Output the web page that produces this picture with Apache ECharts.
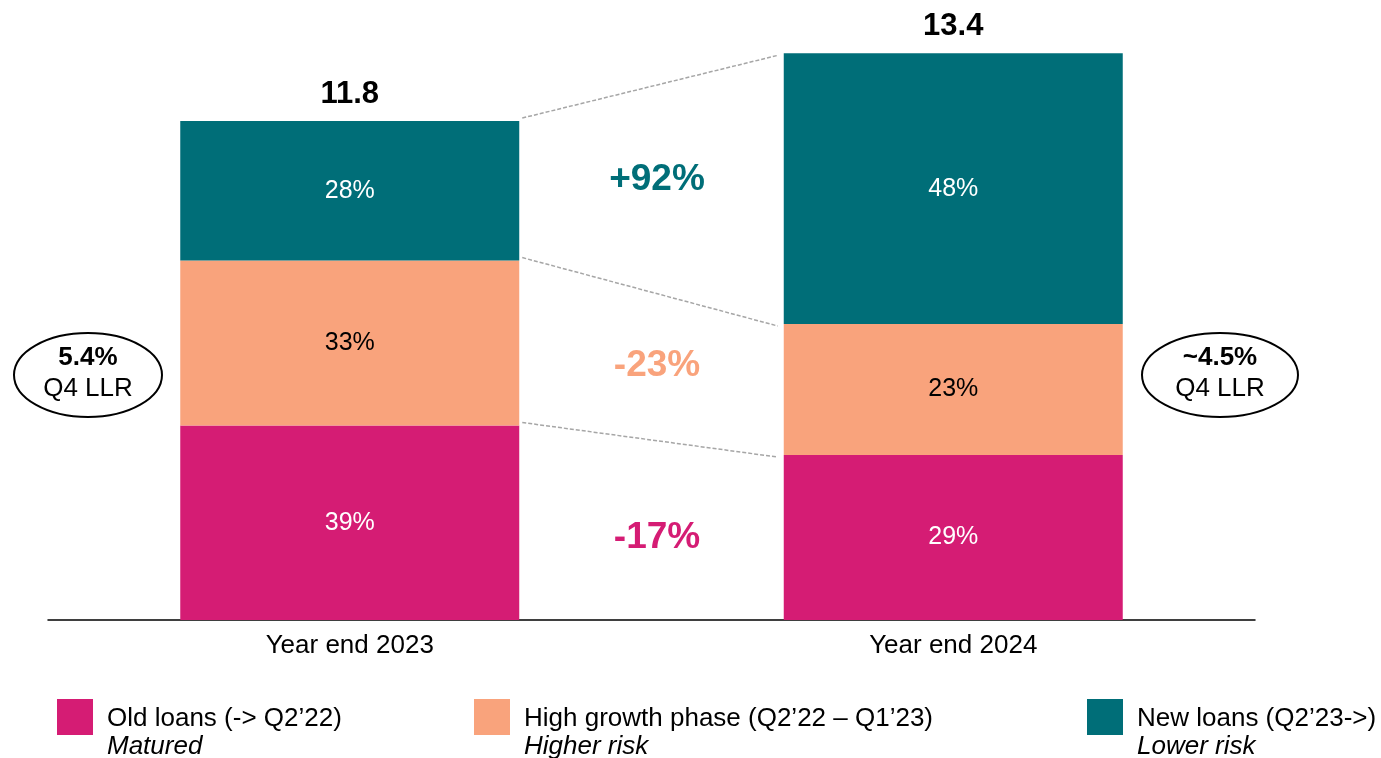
<!DOCTYPE html>
<html>
<head>
<meta charset="utf-8">
<script src="https://cdn.jsdelivr.net/npm/echarts@6/dist/echarts.min.js"></script>
<style>
  html, body { margin: 0; padding: 0; background: #fff; }
  #chart { width: 1381px; height: 758px; }
</style>
</head>
<body>
<div id="chart"></div>
<script>
// data
const categories = ['Year end 2023', 'Year end 2024'];
const oldLoans = [4.6, 3.9];
const highGrowth = [3.9, 3.1];
const newLoans = [3.3, 6.4];
const totals = [11.8, 13.4];
const oldPct = ['39%', '29%'];
const highPct = ['33%', '23%'];
const newPct = ['28%', '48%'];
const seriesNames = ['Old loans (-> Q2\u201922)', 'High growth phase (Q2\u201922 \u2013 Q1\u201923)', 'New loans (Q2\u201923->)'];
const seriesNotes = ['Matured', 'Higher risk', 'Lower risk'];
const changes = ['+92%', '-23%', '-17%'];

const colors = ['#D51C74', '#F9A37C', '#006E78'];
const font = '"Liberation Sans", Arial, sans-serif';
const barWidth = 339;

// segment boundaries, for the dashed connectors
const boundaries = [
    [oldLoans[0], oldLoans[1]],
    [oldLoans[0] + highGrowth[0], oldLoans[1] + highGrowth[1]],
    [totals[0], totals[1]]
];

let myChart = echarts.init(document.getElementById('chart'));

function segLabel(arr, color) {
    return {
        show: true,
        position: 'inside',
        color: color,
        fontSize: 25,
        fontFamily: font,
        formatter: p => arr[p.dataIndex]
    };
}

// legend drawn by hand, the three items are not evenly spaced
const legendX = [57, 474, 1087];
const legendGraphics = [];
legendX.forEach((x, i) => {
    legendGraphics.push({ type: 'rect', left: x, top: 699, shape: { width: 36, height: 36 }, style: { fill: colors[i] } });
    legendGraphics.push({ type: 'text', left: x + 50, top: 706, style: { text: seriesNames[i], fontSize: 26, fontFamily: font, fill: '#000' } });
    legendGraphics.push({ type: 'text', left: x + 50, top: 734, style: { text: seriesNotes[i], fontSize: 26, fontStyle: 'italic', fontFamily: font, fill: '#000' } });
});

const changeColors = [colors[2], colors[1], colors[0]];
const changeY = [180, 366, 538];
const changeGraphics = changes.map((c, i) => ({
    type: 'text', x: 657, y: changeY[i],
    style: { text: c, fontSize: 37, fontWeight: 'bold', fontFamily: font, fill: changeColors[i], align: 'center', verticalAlign: 'middle' }
}));

function ellipseBadge(cx, rx, big) {
    return [
        { type: 'ellipse', shape: { cx: cx, cy: 375, rx: rx, ry: 42 }, style: { fill: '#fff', stroke: '#000', lineWidth: 2 } },
        { type: 'text', x: cx, y: 358, style: { text: big, fontSize: 26, fontWeight: 'bold', fontFamily: font, fill: '#000', align: 'center', verticalAlign: 'middle' } },
        { type: 'text', x: cx, y: 389, style: { text: 'Q4 LLR', fontSize: 26, fontFamily: font, fill: '#000', align: 'center', verticalAlign: 'middle' } }
    ];
}

let option = {
    animation: false,
    backgroundColor: '#fff',
    grid: { left: 48, right: 126, top: 28, bottom: 138 },
    xAxis: {
        type: 'category',
        data: categories,
        axisLine: { show: true, lineStyle: { color: '#000', width: 1.5 } },
        axisTick: { show: false },
        axisLabel: { color: '#000', fontSize: 26, fontFamily: font, margin: 13 }
    },
    yAxis: {
        type: 'value',
        min: 0,
        max: 14,
        show: false,
        splitLine: { show: false }
    },
    series: [
        {
            name: seriesNames[0], type: 'bar', stack: 'loans', barWidth: barWidth,
            data: oldLoans, itemStyle: { color: colors[0] },
            label: segLabel(oldPct, '#fff')
        },
        {
            name: seriesNames[1], type: 'bar', stack: 'loans', barWidth: barWidth,
            data: highGrowth, itemStyle: { color: colors[1] },
            label: segLabel(highPct, '#000')
        },
        {
            name: seriesNames[2], type: 'bar', stack: 'loans', barWidth: barWidth,
            data: newLoans, itemStyle: { color: colors[2] },
            label: segLabel(newPct, '#fff')
        },
        {
            // totals above the bars
            type: 'scatter', symbolSize: 0, itemStyle: { color: '#fff' },
            data: totals.map((t, i) => [i, t]),
            label: {
                show: true, position: 'top', distance: 11,
                fontSize: 31, fontWeight: 'bold', fontFamily: font, color: '#000', opacity: 1,
                formatter: p => totals[p.dataIndex].toFixed(1)
            },
            z: 5
        },
        {
            // dashed connectors between segment edges
            type: 'custom',
            data: boundaries.map((b, i) => [i, b[0], b[1]]),
            renderItem: (params, api) => {
                const p1 = api.coord([0, api.value(1)]);
                const p2 = api.coord([1, api.value(2)]);
                return {
                    type: 'line',
                    shape: { x1: p1[0] + barWidth / 2 + 3, y1: p1[1] - 3, x2: p2[0] - barWidth / 2 - 6, y2: p2[1] + 2 },
                    style: { stroke: '#A6A6A6', lineWidth: 1.5, lineDash: [4, 2] }
                };
            },
            z: 3
        }
    ],
    graphic: [].concat(
        changeGraphics,
        ellipseBadge(88, 74, '5.4%'),
        ellipseBadge(1220, 78, '~4.5%'),
        legendGraphics
    )
};

myChart.setOption(option, true);
window.addEventListener('resize', () => {
    myChart.resize();
})
</script>
</body>
</html>
